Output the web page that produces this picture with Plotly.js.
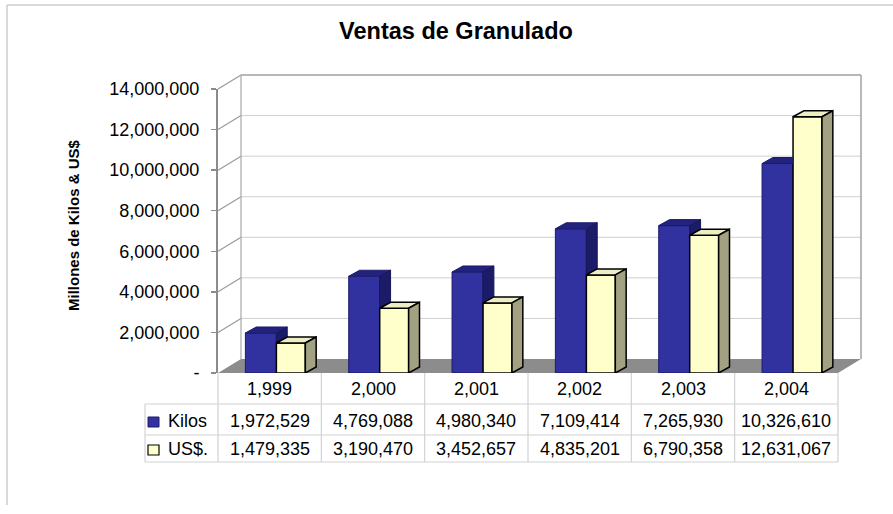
<!DOCTYPE html>
<html>
<head>
<meta charset="utf-8">
<script src="https://cdn.plot.ly/plotly-3.0.1.min.js"></script>
<style>
  html, body { margin: 0; padding: 0; background: #ffffff; }
  #chart { width: 893px; height: 514px; }
</style>
</head>
<body>
<div id="chart"></div>
<script>
// ---- data ----
const years = ['1,999', '2,000', '2,001', '2,002', '2,003', '2,004'];
const kilos = [1972529, 4769088, 4980340, 7109414, 7265930, 10326610];
const usd = [1479335, 3190470, 3452657, 4835201, 6790358, 12631067];
const seriesNames = ['Kilos', 'US$.'];
const yTickVals = [0, 2000000, 4000000, 6000000, 8000000, 10000000, 12000000, 14000000];
const yTickText = ['-', '2,000,000', '4,000,000', '6,000,000', '8,000,000', '10,000,000', '12,000,000', '14,000,000'];

// ---- style constants ----
const FONT = 'Liberation Sans, Arial, sans-serif';
const W = 893, H = 514;
const M = { l: 218, r: 55, t: 89, b: 141 };
const PW = W - M.l - M.r, PH = H - M.t - M.b;
const yMax = yTickVals[yTickVals.length - 1];
const DXp = 23 / PW, DYp = 14 / PH;          // wall depth (paper)
const BDX = 0.105;                           // bar depth (x units)
const BDY = 6 * yMax / PH;                   // bar depth (y units)
const KOFF = -0.235, KW = 0.30, UOFF = 0.065, UW = 0.28;
const px2py = p => (M.t + PH - p) / PH;      // pixel y -> paper y
const px2px = p => (p - M.l) / PW;           // pixel x -> paper x

const xs = years.map((_, i) => i);

// ---- 3D faces from data ----
function faces() {
  const kt = { x: [], y: [] }, ks = { x: [], y: [] }, ut = { x: [], y: [] }, us = { x: [], y: [] };
  const add = (o, pts) => { pts.forEach(p => { o.x.push(p[0]); o.y.push(p[1]); }); o.x.push(null); o.y.push(null); };
  xs.forEach(i => {
    const K = kilos[i], U = usd[i];
    const k0 = i + KOFF, k1 = k0 + KW, u0 = i + UOFF, u1 = u0 + UW;
    if (K >= U) {
      add(kt, [[k0, K], [k1, K], [k1 + BDX, K + BDY], [k0 + BDX, K + BDY], [k0, K]]);
      add(ks, [[k1, U], [k1 + BDX, U + BDY], [k1 + BDX, K + BDY], [k1, K], [k1, U]]);
    } else {
      add(kt, [[k0, K], [k1, K], [k1, K + BDY], [k0 + BDX, K + BDY], [k0, K]]);
    }
    add(ut, [[u0, U], [u1, U], [u1 + BDX, U + BDY], [u0 + BDX, U + BDY], [u0, U]]);
    add(us, [[u1, 0], [u1, U], [u1 + BDX, U + BDY], [u1 + BDX, BDY], [u1, 0]]);
  });
  return { kt, ks, ut, us };
}
const F = faces();

const traces = [
  { type: 'bar', name: seriesNames[0], x: xs, y: kilos, width: KW, offset: KOFF,
    marker: { color: '#31319f', line: { color: '#1c1c6e', width: 1 } }, hoverinfo: 'y' },
  { type: 'bar', name: seriesNames[1], x: xs, y: usd, width: UW, offset: UOFF,
    marker: { color: '#ffffcc', line: { color: '#000000', width: 1.5 } }, hoverinfo: 'y' },
  { type: 'scatter', mode: 'lines', x: F.kt.x, y: F.kt.y, fill: 'toself', fillcolor: '#23237e',
    line: { color: '#1c1c6e', width: 1 }, hoverinfo: 'skip' },
  { type: 'scatter', mode: 'lines', x: F.ks.x, y: F.ks.y, fill: 'toself', fillcolor: '#1b1b68',
    line: { color: '#16165a', width: 1 }, hoverinfo: 'skip' },
  { type: 'scatter', mode: 'lines', x: F.ut.x, y: F.ut.y, fill: 'toself', fillcolor: '#eeeec4',
    line: { color: '#000000', width: 1.5 }, hoverinfo: 'skip' },
  { type: 'scatter', mode: 'lines', x: F.us.x, y: F.us.y, fill: 'toself', fillcolor: '#a2a282',
    line: { color: '#000000', width: 1.5 }, hoverinfo: 'skip' }
];

// ---- walls / floor / gridlines ----
const shapes = [];
shapes.push({ type: 'path', xref: 'paper', yref: 'paper', layer: 'below',
  path: `M0,0 L1,0 L${1 + DXp},${DYp} L${DXp},${DYp} Z`, fillcolor: '#8c8c8c', line: { width: 0 } });
yTickVals.forEach(v => {
  const yp = v / yMax;
  if (v > 0) {
    shapes.push({ type: 'line', xref: 'paper', yref: 'paper', layer: 'below',
      x0: DXp, x1: 1 + DXp, y0: yp + DYp, y1: yp + DYp,
      line: { color: v === yMax ? '#a0a0a0' : '#cfcfcf', width: v === yMax ? 1.5 : 1 } });
    shapes.push({ type: 'line', xref: 'paper', yref: 'paper', layer: 'below',
      x0: 0, x1: DXp, y0: yp, y1: yp + DYp, line: { color: '#9a9a9a', width: 1.2 } });
  }
});
shapes.push({ type: 'line', xref: 'paper', yref: 'paper', layer: 'below',
  x0: DXp, x1: DXp, y0: DYp, y1: 1 + DYp, line: { color: '#a8a8a8', width: 1.2 } });
shapes.push({ type: 'line', xref: 'paper', yref: 'paper', layer: 'below',
  x0: 1 + DXp, x1: 1 + DXp, y0: DYp, y1: 1 + DYp, line: { color: '#a0a0a0', width: 1.5 } });

// ---- data table ----
const gridC = '#d2d2d2';
const rowY = [0, px2py(404), px2py(435), px2py(462)];
const legL = px2px(145);
shapes.push({ type: 'line', xref: 'paper', yref: 'paper', x0: legL, x1: 1, y0: rowY[1], y1: rowY[1], line: { color: gridC, width: 1.2 } });
shapes.push({ type: 'line', xref: 'paper', yref: 'paper', x0: legL, x1: 1, y0: rowY[2], y1: rowY[2], line: { color: gridC, width: 1.2 } });
shapes.push({ type: 'line', xref: 'paper', yref: 'paper', x0: legL, x1: 1, y0: rowY[3], y1: rowY[3], line: { color: gridC, width: 1.2 } });
shapes.push({ type: 'line', xref: 'paper', yref: 'paper', x0: legL, x1: legL, y0: rowY[1], y1: rowY[3], line: { color: gridC, width: 1.2 } });
for (let k = 0; k <= years.length; k++) {
  const xp = k / years.length;
  shapes.push({ type: 'line', xref: 'paper', yref: 'paper', x0: xp, x1: xp, y0: 0, y1: rowY[3], line: { color: gridC, width: 1.2 } });
}
// legend keys
shapes.push({ type: 'rect', xref: 'paper', yref: 'paper', x0: px2px(148), x1: px2px(159), y0: px2py(427), y1: px2py(417),
  fillcolor: '#31319f', line: { color: '#1c1c6e', width: 1 } });
shapes.push({ type: 'rect', xref: 'paper', yref: 'paper', x0: px2px(148), x1: px2px(159), y0: px2py(455), y1: px2py(445),
  fillcolor: '#ffffcc', line: { color: '#000000', width: 1.2 } });
// outer frame
shapes.push({ type: 'line', xref: 'paper', yref: 'paper', x0: px2px(7), x1: px2px(7), y0: px2py(5), y1: px2py(505), line: { color: '#cccccc', width: 1.5 } });
shapes.push({ type: 'line', xref: 'paper', yref: 'paper', x0: px2px(7), x1: px2px(893), y0: px2py(5), y1: px2py(5), line: { color: '#cccccc', width: 1.5 } });

const fmt = n => n.toLocaleString('en-US');
const tf = { family: FONT, size: 18, color: '#000000' };
const annotations = [];
xs.forEach(i => {
  annotations.push({ xref: 'x', yref: 'paper', x: i, y: px2py(389), text: years[i], showarrow: false, font: tf, xanchor: 'center', yanchor: 'middle' });
  annotations.push({ xref: 'x', yref: 'paper', x: i, y: px2py(421), text: fmt(kilos[i]), showarrow: false, font: tf, xanchor: 'center', yanchor: 'middle' });
  annotations.push({ xref: 'x', yref: 'paper', x: i, y: px2py(449), text: fmt(usd[i]), showarrow: false, font: tf, xanchor: 'center', yanchor: 'middle' });
});
annotations.push({ xref: 'paper', yref: 'paper', x: px2px(166), y: px2py(421), text: seriesNames[0], showarrow: false, font: tf, xanchor: 'left', yanchor: 'middle' });
annotations.push({ xref: 'paper', yref: 'paper', x: px2px(166), y: px2py(449), text: seriesNames[1], showarrow: false, font: tf, xanchor: 'left', yanchor: 'middle' });
annotations.push({ xref: 'paper', yref: 'paper', x: px2px(73), y: px2py(225), text: 'Millones de Kilos &amp; US$', textangle: -90,
  showarrow: false, font: { family: FONT, size: 15, color: '#000000', weight: 'bold' }, xanchor: 'center', yanchor: 'middle' });

const layout = {
  width: W, height: H,
  margin: M,
  paper_bgcolor: '#ffffff', plot_bgcolor: 'rgba(0,0,0,0)',
  showlegend: false,
  barmode: 'overlay',
  title: { text: '<b>Ventas de Granulado</b>', xref: 'container', yref: 'container', x: 456 / W, y: 1 - 31 / H,
    xanchor: 'center', yanchor: 'middle', font: { family: FONT, size: 23.5, color: '#000000' } },
  xaxis: { range: [-0.5, years.length - 0.5], showticklabels: false, showgrid: false, zeroline: false, showline: false, ticks: '', fixedrange: true },
  yaxis: { range: [0, yMax], tickvals: yTickVals, ticktext: yTickText, showgrid: false, zeroline: false,
    showline: true, linecolor: '#8c8c8c', linewidth: 2, ticks: 'outside', ticklen: 5, tickcolor: '#8c8c8c', tickwidth: 1.5,
    ticklabelstandoff: 8, tickfont: tf, fixedrange: true },
  shapes: shapes,
  annotations: annotations
};

Plotly.newPlot('chart', traces, layout, { displayModeBar: false, staticPlot: true });
</script>
</body>
</html>
